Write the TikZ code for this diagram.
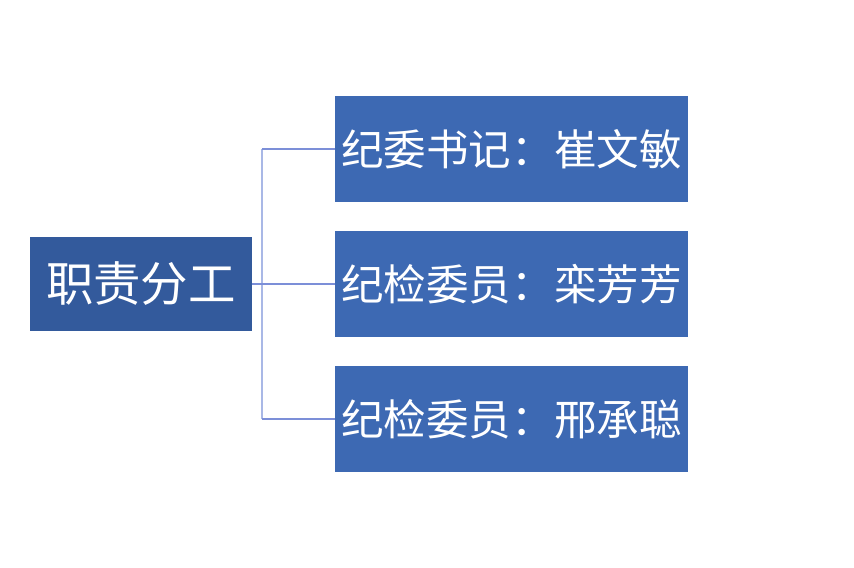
\documentclass[tikz,border=0pt]{standalone}
\usepackage{fontspec}
\newfontfamily\cjk{Noto Sans CJK SC}
\definecolor{leftblue}{HTML}{335A9C}
\definecolor{rightblue}{HTML}{3D69B3}
\definecolor{vline}{HTML}{A9B8E6}
\definecolor{hline}{HTML}{7C8FD8}
\begin{document}
\begin{tikzpicture}[x=0.75pt,y=-0.75pt,
  rootbox/.style={fill=leftblue,draw=none,minimum width=166.5pt,minimum height=70.5pt,inner sep=0pt,text=white,font=\cjk\fontsize{35.6pt}{40pt}\selectfont},
  leafbox/.style={fill=rightblue,draw=none,minimum width=264.75pt,minimum height=79.5pt,inner sep=0pt,text=white,font=\cjk\fontsize{31.9pt}{36pt}\selectfont},
  link/.style={draw=hline,line width=0.8pt}]
\useasboundingbox (0,0) rectangle (854,568);
\node[rootbox] (root) at (141,284) {职责分工};
\node[leafbox] (a) at (511.5,149) {纪委书记：崔文敏};
\node[leafbox] (b) at (511.5,284) {纪检委员：栾芳芳};
\node[leafbox] (c) at (511.5,419) {纪检委员：邢承聪};
\coordinate (j) at (262,284);
\coordinate (ja) at (262,149);
\coordinate (jc) at (262,419);
\draw[draw=vline,line width=1pt] (ja) -- (jc);
\draw[link] (root.east) -- (j) -- (b.west);
\draw[link] (ja) -- (a.west);
\draw[link] (jc) -- (c.west);
\end{tikzpicture}
\end{document}
